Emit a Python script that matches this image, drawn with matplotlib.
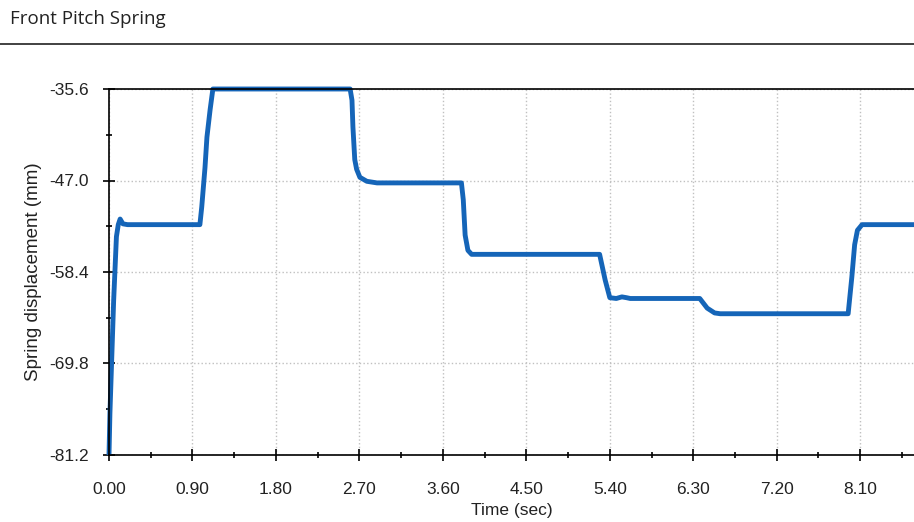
import matplotlib
matplotlib.use("Agg")
import matplotlib.pyplot as plt
from matplotlib.lines import Line2D
from matplotlib.ticker import FixedLocator, FormatStrFormatter

# spring displacement trace (time in s, displacement in mm)
time = [0.00, 0.01, 0.03, 0.05, 0.08, 0.10, 0.12, 0.15, 0.20,
        0.98, 1.00, 1.035, 1.056, 1.09, 1.12,
        2.60, 2.62, 2.63, 2.65, 2.67, 2.705, 2.78, 2.89,
        3.80, 3.82, 3.84, 3.87, 3.91,
        5.29, 5.35, 5.40, 5.47, 5.53, 5.58, 5.62,
        6.37, 6.45, 6.53, 6.59,
        7.97, 8.01, 8.04, 8.07, 8.12, 8.70]
disp = [-81.2, -76.0, -69.0, -62.0, -54.0, -52.5, -51.8, -52.4, -52.5,
        -52.5, -50.3, -45.4, -41.6, -38.2, -35.6,
        -35.6, -37.0, -40.3, -44.4, -45.6, -46.6, -47.1, -47.3,
        -47.3, -49.4, -53.8, -55.7, -56.2,
        -56.2, -59.4, -61.6, -61.7, -61.5, -61.6, -61.7,
        -61.7, -62.9, -63.5, -63.6,
        -63.6, -59.0, -55.0, -53.2, -52.5, -52.5]

yticks = [-35.6, -47.0, -58.4, -69.8, -81.2]
xticks = [0.00, 0.90, 1.80, 2.70, 3.60, 4.50, 5.40, 6.30, 7.20, 8.10]

plt.rcParams['font.family'] = ['Liberation Sans', 'DejaVu Sans']

fig = plt.figure(figsize=(9.14, 5.22), dpi=100)
ax = fig.add_axes([109 / 914, 67 / 522, 1 - 109 / 914, (455 - 89) / 522])

ax.plot(time, disp, color='#1565b8', lw=3.5, solid_capstyle='butt', clip_on=False)

ax.set_xlim(0, 8.68)
ax.set_ylim(-81.2, -35.6)
ax.xaxis.set_major_locator(FixedLocator(xticks))
ax.yaxis.set_major_locator(FixedLocator(yticks))
ax.xaxis.set_minor_locator(FixedLocator([x + 0.45 for x in xticks]))
ax.yaxis.set_minor_locator(FixedLocator([y - 5.7 for y in yticks[:-1]]))
ax.xaxis.set_major_formatter(FormatStrFormatter('%.2f'))
ax.yaxis.set_major_formatter(FormatStrFormatter('%.1f'))

ax.tick_params(which='major', direction='inout', length=9, width=1.2,
               labelsize=12.5, colors='black', labelcolor='#222222')
ax.tick_params(axis='x', which='major', pad=15)
ax.tick_params(axis='y', which='major', pad=10)
ax.tick_params(which='minor', direction='inout', length=5, width=1.2)
ax.grid(True, which='major', color='#c0c0c0', linestyle=':', linewidth=1.0)

for s in ['left', 'bottom', 'top']:
    ax.spines[s].set_linewidth(1.2)
    ax.spines[s].set_color('black')
ax.spines['right'].set_visible(False)

ax.set_xlabel('Time (sec)', fontsize=12.5, labelpad=4, color='#222222')
ax.set_ylabel('Spring displacement (mm)', fontsize=13.5, labelpad=5, color='#222222')

fig.text(10 / 914, 1 - 19 / 522, 'Front Pitch Spring', fontsize=13.5,
         family=['Open Sans', 'DejaVu Sans'], va='center', ha='left', color='#222222')
fig.add_artist(Line2D([0, 1], [1 - 44 / 522, 1 - 44 / 522], color='#333333', lw=1.3,
                      transform=fig.transFigure))

fig.savefig('out.png', dpi=100)
